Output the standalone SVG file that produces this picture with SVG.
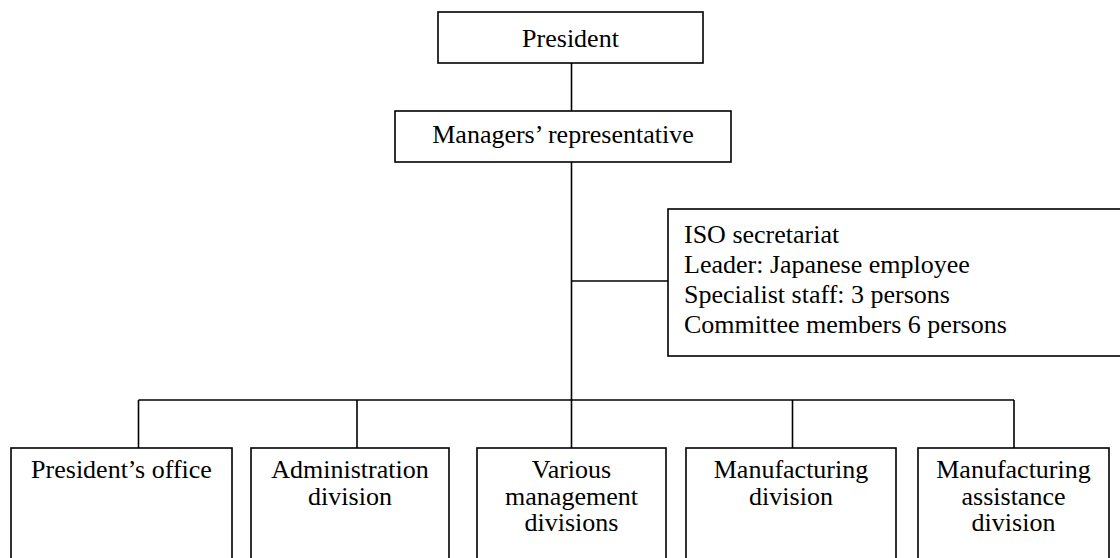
<svg xmlns="http://www.w3.org/2000/svg" width="1120" height="558" viewBox="0 0 1120 558">
<style>
.box{fill:#fff;stroke:#000;stroke-width:1.6}
.ln{fill:none;stroke:#000;stroke-width:1.6}
text{font-family:"Liberation Serif","Times New Roman",serif;font-size:26px;fill:#000}
.c{text-anchor:middle}
</style>
<rect width="1120" height="558" fill="#fff"/>
<g id="connectors">
<line class="ln" x1="571.5" y1="63" x2="571.5" y2="111"/>
<line class="ln" x1="571.5" y1="162" x2="571.5" y2="448"/>
<line class="ln" x1="571.5" y1="281" x2="668" y2="281"/>
<line class="ln" x1="138.5" y1="400" x2="1014" y2="400"/>
<line class="ln" x1="138.5" y1="400" x2="138.5" y2="448"/>
<line class="ln" x1="357" y1="400" x2="357" y2="448"/>
<line class="ln" x1="792.5" y1="400" x2="792.5" y2="448"/>
<line class="ln" x1="1014" y1="400" x2="1014" y2="448"/>
</g>
<g id="president">
<rect class="box" x="438" y="12" width="265" height="51"/>
<text class="c" x="570.5" y="46.5">President</text>
</g>
<g id="managers">
<rect class="box" x="395" y="111" width="336" height="51"/>
<text class="c" x="563" y="142.5">Managers’ representative</text>
</g>
<g id="iso">
<rect class="box" x="668" y="209" width="460" height="147"/>
<text x="684" y="243">ISO secretariat</text>
<text x="684" y="273">Leader: Japanese employee</text>
<text x="684" y="303">Specialist staff: 3 persons</text>
<text x="684" y="333">Committee members 6 persons</text>
</g>
<g id="presidents-office">
<rect class="box" x="11" y="448" width="221" height="130"/>
<text class="c" x="121.5" y="478">President’s office</text>
</g>
<g id="administration">
<rect class="box" x="251" y="448" width="198" height="130"/>
<text class="c" x="350" y="478">Administration</text>
<text class="c" x="350" y="504.5">division</text>
</g>
<g id="various-management">
<rect class="box" x="477" y="448" width="189" height="130"/>
<text class="c" x="571.5" y="478">Various</text>
<text class="c" x="571.5" y="504.5">management</text>
<text class="c" x="571.5" y="531">divisions</text>
</g>
<g id="manufacturing">
<rect class="box" x="686" y="448" width="210" height="130"/>
<text class="c" x="791" y="478">Manufacturing</text>
<text class="c" x="791" y="504.5">division</text>
</g>
<g id="manufacturing-assistance">
<rect class="box" x="918" y="448" width="191" height="130"/>
<text class="c" x="1013.5" y="478">Manufacturing</text>
<text class="c" x="1013.5" y="504.5">assistance</text>
<text class="c" x="1013.5" y="531">division</text>
</g>
</svg>
